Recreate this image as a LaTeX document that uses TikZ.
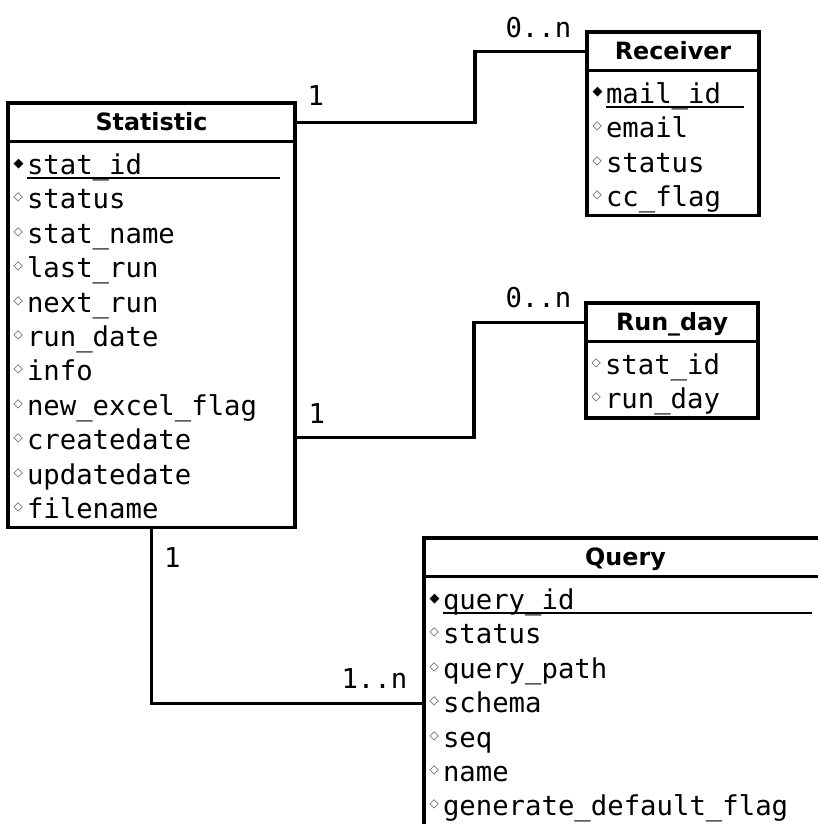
\documentclass[tikz,border=0pt]{standalone}
\usepackage{fontspec}
\setmainfont{DejaVu Sans}
\setsansfont{DejaVu Sans}
\setmonofont{DejaVu Sans Mono}
\newfontfamily\markfont{DejaVu Sans}
\usepackage{xcolor}
\usepackage{tikz}
\usetikzlibrary{shapes,arrows,positioning,calc}

\newcommand{\topstrut}{\rule{0pt}{33pt}}
\newcommand{\botstrut}[1][9pt]{\rule[-#1]{0pt}{#1}}
\newcommand{\keymark}{\makebox[14pt][l]{\hspace{0.5pt}\raisebox{7.5pt}{\markfont\fontsize{13}{13}\selectfont ◆}}}
\newcommand{\attmark}{\makebox[14pt][l]{\hspace{0.5pt}\raisebox{8pt}{\markfont\fontsize{12}{12}\selectfont\color{black!70}◇}}}
\newcommand{\keyattr}[1]{\keymark\makebox[0pt][l]{\rule[-4.5pt]{\dimexpr\linewidth-24pt\relax}{1.8pt}}#1}
\newcommand{\attr}[1]{\attmark#1}

\begin{document}
\begin{tikzpicture}[x=1pt, y=-1pt, line width=3.4pt]
  % Styles
  \tikzstyle{classhead} = [rectangle, draw, fill=white, inner sep=0pt, outer sep=0pt, minimum height=38.5pt, text height=17pt, text depth=0pt, font=\sffamily\bfseries\fontsize{23.8}{28}\selectfont]
  \tikzstyle{classbody} = [rectangle, draw, fill=white, inner xsep=5pt, inner ysep=0pt, outer sep=0pt, align=left, font=\ttfamily\fontsize{27.3}{34.4}\selectfont]
  \tikzstyle{mult} = [inner sep=0pt, font=\ttfamily\fontsize{27.3}{34.4}\selectfont]

  \useasboundingbox (0,0) rectangle (817,824);

  % Nodes
  \node [classhead, anchor=north west, minimum width=287pt] (statHead) at (8,103) {Statistic};
  \node [classbody, text width=277pt, below=0pt of statHead] (statBody) {\topstrut\keyattr{stat\_id}\\
    \attr{status}\\
    \attr{stat\_name}\\
    \attr{last\_run}\\
    \attr{next\_run}\\
    \attr{run\_date}\\
    \attr{info}\\
    \attr{new\_excel\_flag}\\
    \attr{createdate}\\
    \attr{updatedate}\\
    \attr{filename}\botstrut};

  \node [classhead, anchor=north west, minimum width=172pt] (recvHead) at (587,32) {Receiver};
  \node [classbody, text width=162pt, below=0pt of recvHead] (recvBody) {\topstrut\keyattr{mail\_id}\\
    \attr{email}\\
    \attr{status}\\
    \attr{cc\_flag}\botstrut};

  \node [classhead, anchor=north west, minimum width=172pt] (runHead) at (586,303) {Run\_day};
  \node [classbody, text width=162pt, below=0pt of runHead] (runBody) {\topstrut\attr{stat\_id}\\
    \attr{run\_day}\botstrut};

  \node [classhead, anchor=north west, minimum width=403pt] (queryHead) at (424,538) {Query};
  \node [classbody, text width=393pt, below=0pt of queryHead] (queryBody) {\topstrut\keyattr{query\_id}\\
    \attr{status}\\
    \attr{query\_path}\\
    \attr{schema}\\
    \attr{seq}\\
    \attr{name}\\
    \attr{generate\_default\_flag}\botstrut[14pt]};

  % Paths / Edges
  \coordinate (runStart) at ([yshift=-103pt]statBody.east);
  \draw (statHead.east) -- ++(180,0) |- (recvHead.west);
  \draw (runStart) -- ++(179,0) |- (runHead.west);
  \draw (statBody.south) |- (queryBody.west);

  % Multiplicities
  \node [mult, above right=15pt and 11pt of statHead.east] (recvOne) {1};
  \node [mult, above left=12pt and 14pt of recvHead.west] (recvMany) {0..n};
  \node [mult, above right=12pt and 12pt of runStart] (runOne) {1};
  \node [mult, above left=13pt and 13pt of runHead.west] (runMany) {0..n};
  \node [mult, below right=18pt and 11pt of statBody.south] (queryOne) {1};
  \node [mult, above left=13pt and 15pt of queryBody.west] (queryMany) {1..n};

\end{tikzpicture}
\end{document}
